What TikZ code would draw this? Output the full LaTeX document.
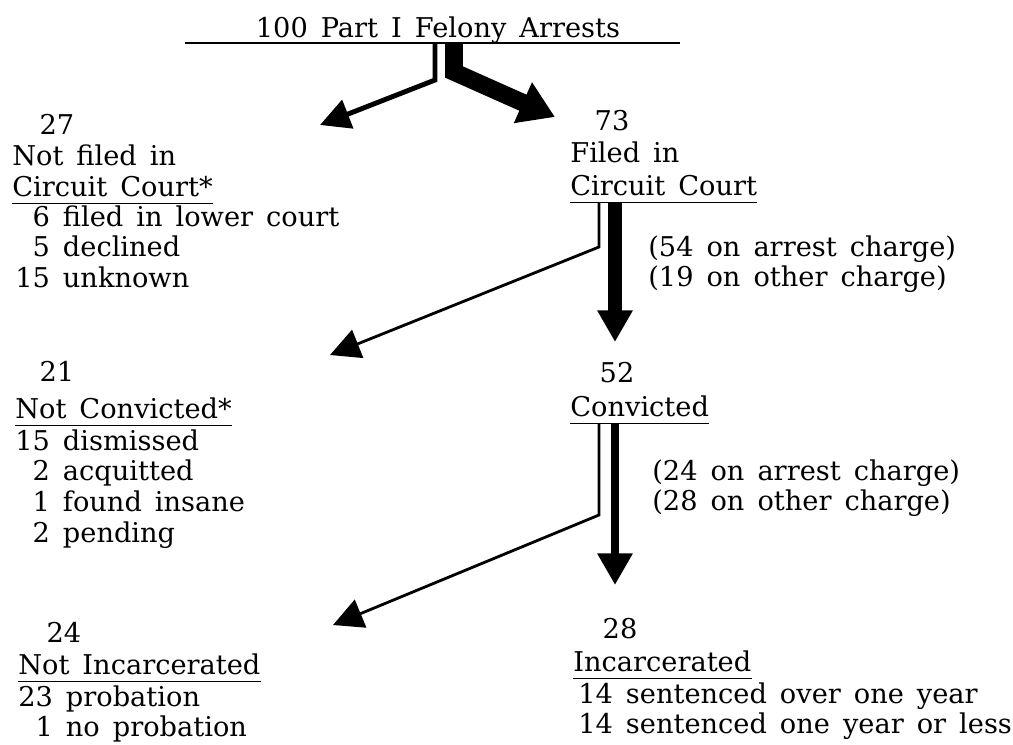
\documentclass[tikz,border=0pt]{standalone}
\usepackage{fontspec}
\setmainfont{DejaVu Serif}[WordSpace=1.5]
\usetikzlibrary{arrows.meta,calc}
\newcommand{\lines}[1]{\begin{tabular}[t]{@{}l@{}}#1\end{tabular}}

\begin{document}
\begin{tikzpicture}[x=0.02cm, y=-0.02cm, font=\fontsize{15.5}{17.5}\selectfont,
      txt/.style={anchor=base west, inner sep=0pt},
      hd/.style={anchor=base west, inner sep=0pt, text depth=4pt},
      num/.style={inner sep=0pt},
      ul/.style={line width=1pt},
      minor/.style={line width=1.6pt, line join=miter, -{Triangle[length=17pt,width=17pt]}},
      major/.style={line width=#1, line join=miter, -{Triangle[length=18pt,width=19pt]}}]
  \useasboundingbox (0,0) rectangle (1013,744);

  % arrests
  \node[hd, anchor=base] (title) at (438,37) {100 Part I Felony Arrests};
  \coordinate (tl) at (185,43); \coordinate (tr) at (680,43);
  \draw[ul] (tl) -- (tr);

  % not filed / filed
  \node[num] (n27) at (57,124) {27};
  \node[txt] (nf) at (12,165) {Not filed in};
  \node[hd] (nfcc) at (12,196) {Circuit Court*};
  \draw[ul] (nfcc.south west) -- (nfcc.south east);
  \node[txt] (nfdet) at (15,226) {\lines{\phantom{1}6 filed in lower court\\\phantom{1}5 declined\\15 unknown}};

  \node[num] (n73) at (612,121) {73};
  \node[txt] (fi) at (570,162) {Filed in};
  \node[hd] (fcc) at (570,195) {Circuit Court};
  \draw[ul] (fcc.south west) -- (fcc.south east);
  \node[txt] (fch) at (648,256) {\lines{(54 on arrest charge)\\(19 on other charge)}};

  % convicted / not convicted
  \node[num] (n21) at (57,371) {21};
  \node[hd] (nc) at (15,418) {Not Convicted*};
  \draw[ul] (nc.south west) -- (nc.south east);
  \node[txt] (ncdet) at (15,450) {\lines{15 dismissed\\\phantom{1}2 acquitted\\\phantom{1}1 found insane\\\phantom{1}2 pending}};

  \node[num] (n52) at (617,373) {52};
  \node[hd] (cv) at (570,416) {Convicted};
  \draw[ul] (cv.south west) -- (cv.south east);
  \node[txt] (cch) at (652,480) {\lines{(24 on arrest charge)\\(28 on other charge)}};

  % incarcerated / not incarcerated
  \node[num] (n24) at (64,632) {24};
  \node[hd] (ni) at (18,674) {Not Incarcerated};
  \draw[ul] (ni.south west) -- (ni.south east);
  \node[txt] (nidet) at (18,706) {\lines{23 probation\\\phantom{2}1 no probation}};

  \node[num] (n28) at (620,629) {28};
  \node[hd] (inc) at (573,671) {Incarcerated};
  \draw[ul] (inc.south west) -- (inc.south east);
  \node[txt] (incdet) at (578,703) {\lines{14 sentenced over one year\\14 sentenced one year or less}};

  % split arrows
  \coordinate (s1) at (435,43); \coordinate (c1) at (435,80); \coordinate (t1) at (320,125);
  \coordinate (s2) at (454,43); \coordinate (c2) at (454,72); \coordinate (t2) at (555,117);
  \draw[minor, line width=2.8pt] (s1) -- (c1) -- (t1);
  \draw[major=10pt, -{Triangle[length=20pt,width=24pt]}] (s2) -- (c2) -- (t2);

  \coordinate (s3) at (599,203); \coordinate (c3) at (599,247); \coordinate (t3) at (330,355);
  \coordinate (s4) at (615,203); \coordinate (t4) at (615,342);
  \draw[minor] (s3) -- (c3) -- (t3);
  \draw[major=8.5pt] (s4) -- (t4);

  \coordinate (s5) at (599,424); \coordinate (c5) at (599,515); \coordinate (t5) at (333,625);
  \coordinate (s6) at (615,424); \coordinate (t6) at (615,585);
  \draw[minor] (s5) -- (c5) -- (t5);
  \draw[major=5pt] (s6) -- (t6);
\end{tikzpicture}
\end{document}
